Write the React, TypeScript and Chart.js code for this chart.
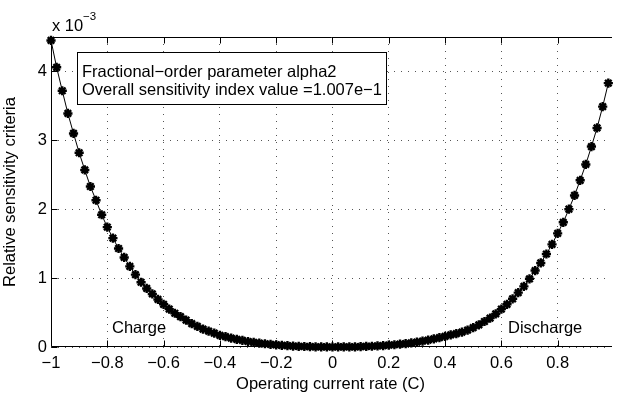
import React, { useEffect, useRef } from "react";
import { Chart, registerables } from "chart.js";

Chart.register(...registerables);

// Operating current rate (C)
const currentRate = [
  -1.0, -0.98, -0.96, -0.94, -0.92, -0.9, -0.88, -0.86, -0.84, -0.82,
  -0.8, -0.78, -0.76, -0.74, -0.72, -0.7, -0.68, -0.66, -0.64, -0.62,
  -0.6, -0.58, -0.56, -0.54, -0.52, -0.5, -0.48, -0.46, -0.44, -0.42,
  -0.4, -0.38, -0.36, -0.34, -0.32, -0.3, -0.28, -0.26, -0.24, -0.22,
  -0.2, -0.18, -0.16, -0.14, -0.12, -0.1, -0.08, -0.06, -0.04, -0.02,
  0.0, 0.02, 0.04, 0.06, 0.08, 0.1, 0.12, 0.14, 0.16, 0.18,
  0.2, 0.22, 0.24, 0.26, 0.28, 0.3, 0.32, 0.34, 0.36, 0.38,
  0.4, 0.42, 0.44, 0.46, 0.48, 0.5, 0.52, 0.54, 0.56, 0.58,
  0.6, 0.62, 0.64, 0.66, 0.68, 0.7, 0.72, 0.74, 0.76, 0.78,
  0.8, 0.82, 0.84, 0.86, 0.88, 0.9, 0.92, 0.94, 0.96, 0.98,
];

// Relative sensitivity criteria (x 10^-3)
const sensitivity = [
  4.45, 4.06, 3.72, 3.39, 3.1, 2.82, 2.57, 2.33, 2.13, 1.92,
  1.74, 1.58, 1.43, 1.3, 1.17, 1.05, 0.94, 0.85, 0.77, 0.69,
  0.62, 0.55, 0.49, 0.44, 0.39, 0.34, 0.3, 0.26, 0.23, 0.2,
  0.17, 0.15, 0.13, 0.11, 0.095, 0.08, 0.068, 0.057, 0.047, 0.039,
  0.031, 0.025, 0.019, 0.014, 0.01, 0.007, 0.004, 0.002, 0.001, 0.0005,
  0.0002, 0.0005, 0.001, 0.002, 0.003, 0.005, 0.008, 0.011, 0.015, 0.02,
  0.026, 0.033, 0.041, 0.05, 0.06, 0.072, 0.085, 0.1, 0.117, 0.135,
  0.155, 0.175, 0.195, 0.215, 0.245, 0.28, 0.32, 0.37, 0.42, 0.48,
  0.55, 0.62, 0.7, 0.79, 0.88, 0.99, 1.11, 1.22, 1.35, 1.49,
  1.65, 1.81, 2.0, 2.2, 2.42, 2.65, 2.91, 3.18, 3.49, 3.83,
];

const xTickValues = [-1, -0.8, -0.6, -0.4, -0.2, 0, 0.2, 0.4, 0.6, 0.8];
const yTickValues = [0, 1, 2, 3, 4];
const xAxisRange = [-1, 0.986];
const yAxisRange = [0, 4.5];

const infoLines = [
  "Fractional\u2212order parameter alpha2",
  "Overall sensitivity index value =1.007e\u22121",
];
const regionLabels = ["Charge", "Discharge"];
const xTitle = "Operating current rate (C)";
const yTitle = "Relative sensitivity criteria";
const exponentBase = "x 10";
const exponentPower = "\u22123";

const FONT = '"Liberation Sans", Arial, Helvetica, sans-serif';

const fmt = (v: number) => {
  const s = String(Number(v.toFixed(1)));
  return s.replace("-", "\u2212");
};

const matlabPlugin = {
  id: "matlabDecor",
  beforeDatasetsDraw(chart: any) {
    const { ctx, chartArea: a, scales } = chart;
    const x = scales.x;
    const y = scales.y;
    ctx.save();
    ctx.strokeStyle = "#000";
    ctx.lineWidth = 1;
    ctx.setLineDash([]);
    const L = Math.round(a.left) + 0.5;
    const T = Math.round(a.top) + 0.5;
    const B = Math.round(a.bottom) - 0.5;
    const R = a.right + 2;
    ctx.beginPath();
    ctx.moveTo(R, T);
    ctx.lineTo(L, T);
    ctx.lineTo(L, B);
    ctx.lineTo(R, B);
    ctx.stroke();
    // inward ticks
    const tl = 6;
    ctx.beginPath();
    xTickValues.forEach((v) => {
      const px = Math.round(x.getPixelForValue(v)) + 0.5;
      ctx.moveTo(px, B);
      ctx.lineTo(px, B - tl);
      ctx.moveTo(px, T);
      ctx.lineTo(px, T + tl);
    });
    yTickValues.forEach((v) => {
      const py = Math.round(y.getPixelForValue(v)) + 0.5;
      ctx.moveTo(L, py);
      ctx.lineTo(L + tl, py);
    });
    ctx.stroke();
    ctx.restore();
  },
  afterDatasetsDraw(chart: any) {
    const { ctx } = chart;
    ctx.save();
    // info box
    ctx.fillStyle = "#fff";
    ctx.fillRect(77.5, 52.5, 309, 52);
    ctx.strokeStyle = "#000";
    ctx.lineWidth = 1;
    ctx.setLineDash([]);
    ctx.strokeRect(77.5, 52.5, 309, 52);
    ctx.fillStyle = "#000";
    ctx.font = `16.5px ${FONT}`;
    ctx.textBaseline = "alphabetic";
    ctx.textAlign = "left";
    ctx.fillText(infoLines[0], 82, 77);
    ctx.fillText(infoLines[1], 82, 95);
    // region labels
    ctx.fillText(regionLabels[0], 112, 333);
    ctx.fillText(regionLabels[1], 508, 333);
    // exponent
    ctx.fillText(exponentBase, 52, 31);
    ctx.font = `11.5px ${FONT}`;
    ctx.fillText(exponentPower, 83, 20);
    ctx.restore();
  },
};

export default function App() {
  const ref = useRef<HTMLCanvasElement | null>(null);

  useEffect(() => {
    if (!ref.current) return;
    const points = currentRate.map((c, i) => ({ x: c, y: sensitivity[i] }));
    const chart = new Chart(ref.current, {
      type: "line",
      data: {
        datasets: [
          {
            data: points,
            borderColor: "#000",
            borderWidth: 1,
            backgroundColor: "#000",
            pointStyle: "star",
            pointRadius: 4.6,
            pointBorderWidth: 2.4,
            pointBorderColor: "#000",
            pointBackgroundColor: "#000",
            tension: 0,
            clip: false as any,
          },
        ],
      },
      options: {
        animation: false,
        responsive: false,
        maintainAspectRatio: false,
        layout: { padding: { top: 37, right: 0, left: 0, bottom: 0 } },
        plugins: {
          legend: { display: false },
          tooltip: { enabled: false },
        },
        scales: {
          x: {
            type: "linear",
            position: "bottom",
            min: xAxisRange[0],
            max: xAxisRange[1],
            afterFit: (s: any) => {
              s.height = 52;
            },
            afterBuildTicks: (s: any) => {
              s.ticks = xTickValues.map((v) => ({ value: v }));
            },
            ticks: {
              autoSkip: false,
              maxRotation: 0,
              padding: 7,
              color: "#000",
              font: { family: FONT, size: 16.5 },
              callback: (v: any) => fmt(Number(v)),
            },
            grid: {
              color: "#555",
              lineWidth: 1,
              drawTicks: false,
            },
            border: { display: false, dash: [1, 6] },
            title: {
              display: true,
              text: xTitle,
              color: "#000",
              font: { family: FONT, size: 16.5 },
              padding: { top: 0, bottom: 5 },
            },
          },
          y: {
            type: "linear",
            position: "left",
            min: yAxisRange[0],
            max: yAxisRange[1],
            afterFit: (s: any) => {
              s.width = 51;
            },
            afterBuildTicks: (s: any) => {
              s.ticks = yTickValues.map((v) => ({ value: v }));
            },
            ticks: {
              padding: 4,
              color: "#000",
              font: { family: FONT, size: 16.5 },
              callback: (v: any) => fmt(Number(v)),
            },
            grid: {
              color: "#555",
              lineWidth: 1,
              drawTicks: false,
            },
            border: { display: false, dash: [1, 6] },
            title: {
              display: true,
              text: yTitle,
              color: "#000",
              font: { family: FONT, size: 16.5 },
              padding: { top: 1, bottom: 0 },
            },
          },
        },
      },
      plugins: [matlabPlugin],
    });
    return () => chart.destroy();
  }, []);

  return (
    <div
      style={{
        position: "fixed",
        left: 0,
        top: 0,
        width: 617,
        height: 399,
        background: "#fff",
      }}
    >
      <canvas ref={ref} width={617} height={399} style={{ width: 617, height: 399 }} />
    </div>
  );
}
